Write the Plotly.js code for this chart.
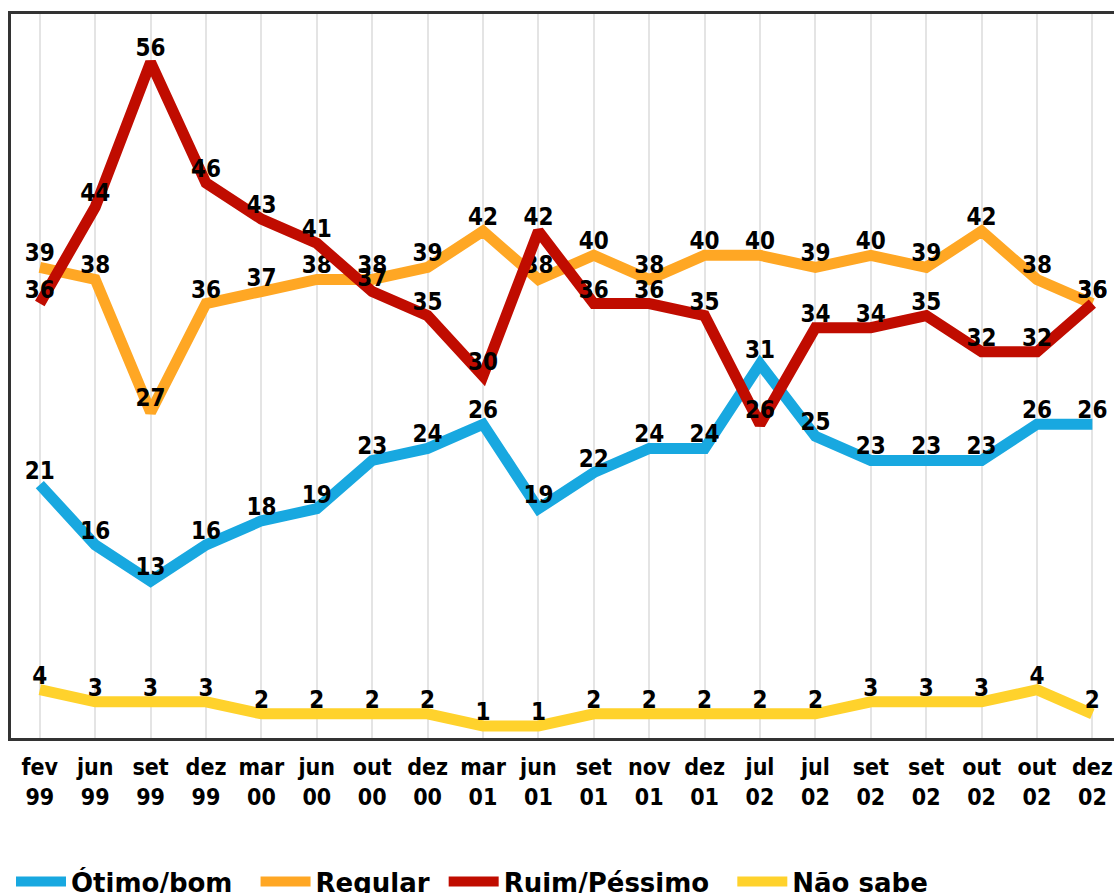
<!DOCTYPE html>
<html>
<head>
<meta charset="utf-8">
<script src="https://cdn.plot.ly/plotly-3.0.1.min.js"></script>
<style>html,body{margin:0;padding:0;background:#fff;}#chart{width:1114px;height:893px;}</style>
</head>
<body>
<div id="chart"></div>
<script>
const months = ["fev","jun","set","dez","mar","jun","out","dez","mar","jun","set","nov","dez","jul","jul","set","set","out","out","dez"];
const years  = ["99","99","99","99","00","00","00","00","01","01","01","01","01","02","02","02","02","02","02","02"];
const otimoBom   = [21,16,13,16,18,19,23,24,26,19,22,24,24,31,25,23,23,23,26,26];
const regular    = [39,38,27,36,37,38,38,39,42,38,40,38,40,40,39,40,39,42,38,36];
const ruimPessimo= [36,44,56,46,43,41,37,35,30,42,36,36,35,26,34,34,35,32,32,36];
const naoSabe    = [4,3,3,3,2,2,2,2,1,1,2,2,2,2,2,3,3,3,4,2];
const seriesNames = ["Ótimo/bom","Regular","Ruim/Péssimo","Não sabe"];
const seriesColors = ["#18a8e0","#ffa724","#c00c00","#ffd22c"];
const legendPad = ["\u00a0\u00a0","\u00a0","\u00a0\u00a0",""];

const idx = months.map((m,i)=>i);
const ticktext = months.map((m,i)=>m+"<br>"+years[i]);
const condensed = "DejaVu Sans Condensed, DejaVu Sans, sans-serif";
const labelFont = {family:condensed, size:24, color:"#000", weight:"bold"};

const data = [otimoBom, regular, ruimPessimo, naoSabe].map((vals,k)=>({
  x: idx, y: vals, type:"scatter", mode:"lines+text",
  name: seriesNames[k] + legendPad[k],
  line:{color:seriesColors[k], width:11},
  text: vals.map(String), textposition:"top center",
  textfont: labelFont, cliponaxis:false, hoverinfo:"skip"
}));

const layout = {
  width:1114, height:893,
  margin:{l:11, r:0, t:14, b:155, autoexpand:false},
  paper_bgcolor:"#fff", plot_bgcolor:"#fff",
  showlegend:true,
  legend:{orientation:"h", x:0, xanchor:"left", y:-0.166, yanchor:"top",
          font:{family:"DejaVu Sans, Verdana, sans-serif", size:26, color:"#000", weight:"bold"},
          itemwidth:50, tracegroupgap:0},
  xaxis:{range:[-0.52,19.39], tickmode:"array", tickvals:idx, ticktext:ticktext,
         showgrid:true, gridcolor:"#e4e4e4", gridwidth:2, zeroline:false,
         showline:true, linecolor:"#333", linewidth:3, mirror:true, ticks:"",
         ticklabelstandoff:6,
         tickfont:{family:condensed, size:23, color:"#000", weight:"bold"}},
  yaxis:{range:[0,60], showgrid:false, zeroline:false, showticklabels:false, ticks:"",
         showline:true, linecolor:"#333", linewidth:3, mirror:false, fixedrange:true}
};
Plotly.newPlot("chart", data, layout, {displayModeBar:false, staticPlot:true});
</script>
</body>
</html>
